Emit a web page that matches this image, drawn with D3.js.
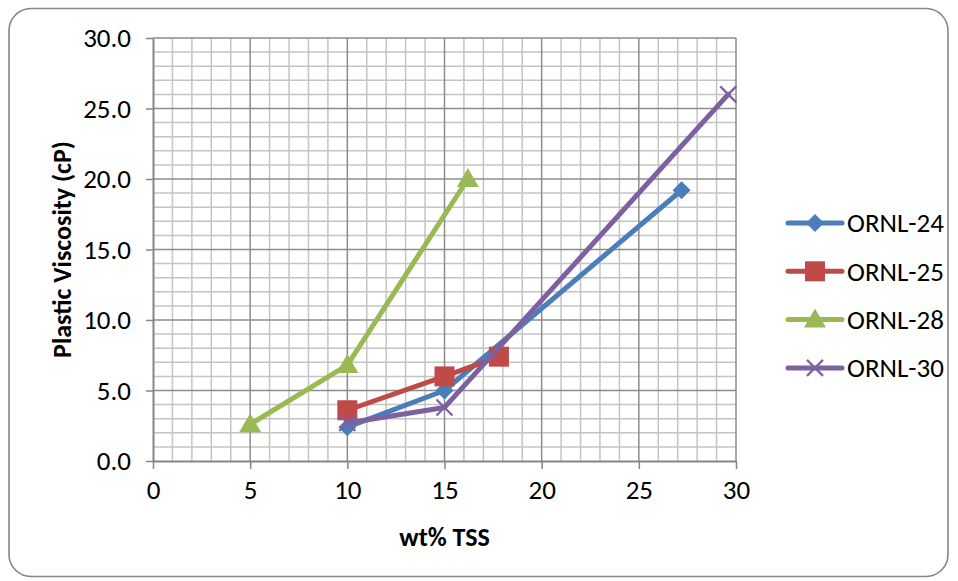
<!DOCTYPE html>
<html>
<head>
<meta charset="utf-8">
<script src="https://cdn.jsdelivr.net/npm/d3@7"></script>
<style>
  html, body { margin: 0; padding: 0; background: #fff; }
  svg { display: block; }
</style>
</head>
<body>
<div id="chart"></div>
<script>
// ---- data ----
const seriesNames = ['ORNL-24', 'ORNL-25', 'ORNL-28', 'ORNL-30']
const tss24 = [10, 15, 27.2]
const pv24 = [2.4, 5.0, 19.2]
const tss25 = [10, 15, 17.8]
const pv25 = [3.6, 6.0, 7.4]
const tss28 = [5, 10, 16.2]
const pv28 = [2.6, 6.8, 20.0]
const tss30 = [10, 15, 29.6]
const pv30 = [2.7, 3.8, 26.0]
const xTicks = [0, 5, 10, 15, 20, 25, 30]
const yTicks = [0, 5, 10, 15, 20, 25, 30]

const colors = ['#4A7EBB', '#BE4B48', '#98B954', '#7D60A0']
const shapes = ['diamond', 'square', 'triangle', 'x']

const series = [
  { name: seriesNames[0], xs: tss24, ys: pv24 },
  { name: seriesNames[1], xs: tss25, ys: pv25 },
  { name: seriesNames[2], xs: tss28, ys: pv28 },
  { name: seriesNames[3], xs: tss30, ys: pv30 },
].map((s, i) => ({
  ...s,
  color: colors[i],
  shape: shapes[i],
  points: s.xs.map((x, j) => ({ x, y: s.ys[j] })),
}))

const W = 958, H = 581
const margin = { top: 38, right: 222, bottom: 120, left: 153 }
const FONT = 'Carlito, Calibri, Lato, sans-serif'

const svg = d3.select('#chart').append('svg')
  .attr('width', W).attr('height', H)

// chart border
svg.append('rect')
  .attr('x', 9).attr('y', 8.5)
  .attr('width', 939).attr('height', 568)
  .attr('rx', 22).attr('ry', 22)
  .attr('fill', '#fff')
  .attr('stroke', '#868686').attr('stroke-width', 1.6)

const x = d3.scaleLinear().domain([0, 30]).range([margin.left, W - margin.right])
const y = d3.scaleLinear().domain([0, 30]).range([H - margin.bottom, margin.top])

// minor gridlines
const minor = d3.range(0, 31, 1)
const grid = svg.append('g').attr('class', 'grid')
grid.selectAll('.vminor').data(minor.filter(d => d % 5 !== 0)).join('line')
  .attr('x1', d => x(d)).attr('x2', d => x(d))
  .attr('y1', y(0)).attr('y2', y(30))
  .attr('stroke', '#C4C4C4').attr('stroke-width', 1.5)
grid.selectAll('.hminor').data(minor.filter(d => d % 5 !== 0)).join('line')
  .attr('class', 'hminor')
  .attr('x1', x(0)).attr('x2', x(30))
  .attr('y1', d => y(d)).attr('y2', d => y(d))
  .attr('stroke', '#C4C4C4').attr('stroke-width', 1.5)

// major gridlines
grid.selectAll('.vmajor').data(xTicks.filter(d => d > 0)).join('line')
  .attr('class', 'vmajor')
  .attr('x1', d => x(d)).attr('x2', d => x(d))
  .attr('y1', y(0)).attr('y2', y(30))
  .attr('stroke', '#8C8C8C').attr('stroke-width', 1.5)
grid.selectAll('.hmajor').data(yTicks.filter(d => d > 0)).join('line')
  .attr('class', 'hmajor')
  .attr('x1', x(0)).attr('x2', x(30))
  .attr('y1', d => y(d)).attr('y2', d => y(d))
  .attr('stroke', '#8C8C8C').attr('stroke-width', 1.5)

// axes
const styleAxis = g => {
  g.select('.domain').attr('stroke', '#868686').attr('stroke-width', 2)
  g.selectAll('.tick line').attr('stroke', '#868686').attr('stroke-width', 1.5)
  g.selectAll('.tick text')
    .attr('fill', '#000')
    .attr('font-size', '27px')
    .attr('font-family', FONT)
}

svg.append('g')
  .attr('transform', `translate(0,${y(0)})`)
  .call(d3.axisBottom(x).tickValues(xTicks).tickSize(8).tickPadding(11).tickSizeOuter(0))
  .call(styleAxis)

svg.append('g')
  .attr('transform', `translate(${x(0)},0)`)
  .call(d3.axisLeft(y).tickValues(yTicks).tickFormat(d3.format('.1f')).tickSize(7).tickPadding(15).tickSizeOuter(0))
  .call(styleAxis)

// axis titles
svg.append('text')
  .attr('x', (x(0) + x(30)) / 2).attr('y', 546)
  .attr('text-anchor', 'middle')
  .attr('font-family', FONT).attr('font-weight', 'bold').attr('font-size', '26px')
  .text('wt% TSS')

svg.append('text')
  .attr('transform', `translate(71,${(y(0) + y(30)) / 2}) rotate(-90)`)
  .attr('text-anchor', 'middle')
  .attr('font-family', FONT).attr('font-weight', 'bold').attr('font-size', '26px')
  .text('Plastic Viscosity (cP)')

// marker drawing
function drawMarker(g, shape, color) {
  if (shape === 'diamond') {
    g.append('path').attr('d', 'M0,-9L9,0L0,9L-9,0Z').attr('fill', color)
  } else if (shape === 'square') {
    g.append('rect').attr('x', -10).attr('y', -10).attr('width', 20).attr('height', 20).attr('fill', color)
  } else if (shape === 'triangle') {
    g.append('path').attr('d', 'M0,-11L11,8L-11,8Z').attr('fill', color)
  } else {
    g.append('path').attr('d', 'M-8,-8L8,8M-8,8L8,-8')
      .attr('stroke', color).attr('stroke-width', 2.2).attr('fill', 'none')
  }
}

const line = d3.line().x(d => x(d.x)).y(d => y(d.y))

const seriesG = svg.append('g').attr('class', 'series')
series.forEach(s => {
  const g = seriesG.append('g')
  g.append('path')
    .datum(s.points)
    .attr('d', line)
    .attr('fill', 'none')
    .attr('stroke', s.color)
    .attr('stroke-width', 5)
    .attr('stroke-linejoin', 'round')
    .attr('stroke-linecap', 'round')
  g.selectAll('.pt').data(s.points).join('g')
    .attr('transform', d => `translate(${x(d.x)},${y(d.y)})`)
    .each(function () { drawMarker(d3.select(this), s.shape, s.color) })
})

// legend
const legend = svg.append('g').attr('class', 'legend')
series.forEach((s, i) => {
  const ly = 223 + i * 48.3
  const g = legend.append('g').attr('transform', `translate(815,${ly})`)
  g.append('line')
    .attr('x1', -27).attr('x2', 27)
    .attr('stroke', s.color).attr('stroke-width', 5).attr('stroke-linecap', 'round')
  drawMarker(g, s.shape, s.color)
  g.append('text')
    .attr('x', 32).attr('y', 0).attr('dy', '0.35em')
    .attr('font-family', FONT).attr('font-size', '27px')
    .text(s.name)
})
</script>
</body>
</html>
